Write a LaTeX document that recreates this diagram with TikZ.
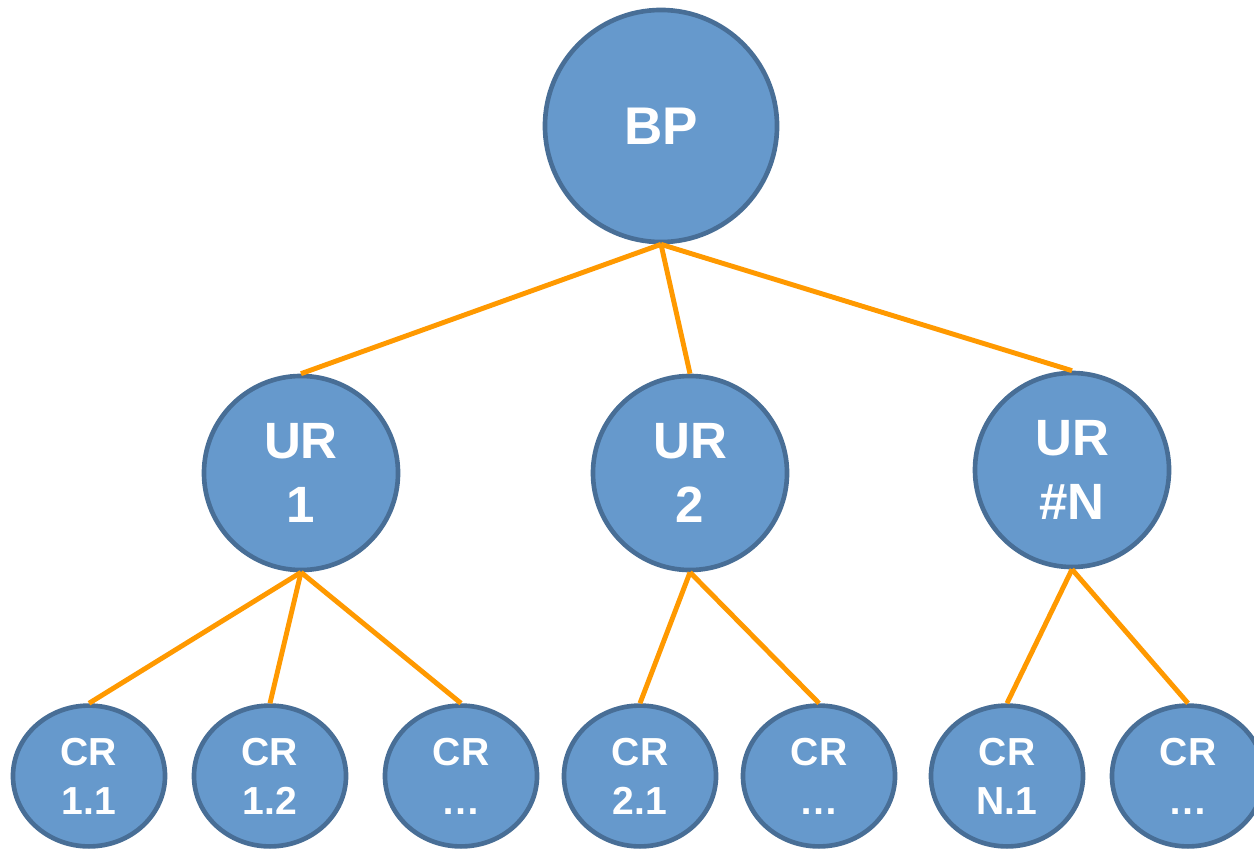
\documentclass[tikz,border=0pt]{standalone}
\usepackage{fontspec}
\setmainfont{Liberation Sans}
\usetikzlibrary{shapes.geometric}
\definecolor{nodefill}{RGB}{102,153,204}
\definecolor{nodeline}{RGB}{72,110,150}
\definecolor{linkorange}{RGB}{255,153,0}
\begin{document}
\begin{tikzpicture}[x = 0.025cm, y = -0.025cm,
  bubble/.style = {circle, draw = nodeline, fill = nodefill, line width = 3.3pt,
    text = white, inner sep = 0pt, align = center},
  bpnode/.style = {bubble, minimum size = 5.8cm, font = \fontsize{37.7}{45}\selectfont\bfseries},
  urnode/.style = {bubble, minimum size = 4.85cm, font = \fontsize{36.3}{45.5}\selectfont\bfseries},
  crnode/.style = {bubble, ellipse, minimum width = 3.8cm, minimum height = 3.52cm,
    font = \fontsize{27.8}{34.8}\selectfont\bfseries},
  link/.style = {draw = linkorange, line width = 3.5pt}]
\useasboundingbox (0,0) rectangle (1254,848);

% top and middle level
\node [bpnode] (bp) at (661,126) {BP};
\node [urnode] (ur1) at (301,473) {UR\\1};
\node [urnode] (ur2) at (690,473) {UR\\2};
\node [urnode] (urn) at (1072,470) {UR\\\#N};

% bottom row
\foreach \x/\name/\lab in {89/cr11/1.1, 270/cr12/1.2, 461/cr1x/…, 640/cr21/2.1,
  819/cr2x/…, 1007/crn1/N.1, 1188/crnx/…}{
\node [crnode] (\name) at (\x,776) {CR\\\lab};
}

% links
\foreach \u in {ur1,ur2,urn}{
\draw [link] (bp.south) -- (\u.north);
}
\foreach \c in {cr11,cr12,cr1x}{
\draw [link] (ur1.south) -- (\c.north);
}
\foreach \c in {cr21,cr2x}{
\draw [link] (ur2.south) -- (\c.north);
}
\foreach \c in {crn1,crnx}{
\draw [link] (urn.south) -- (\c.north);
}
\end{tikzpicture}
\end{document}
